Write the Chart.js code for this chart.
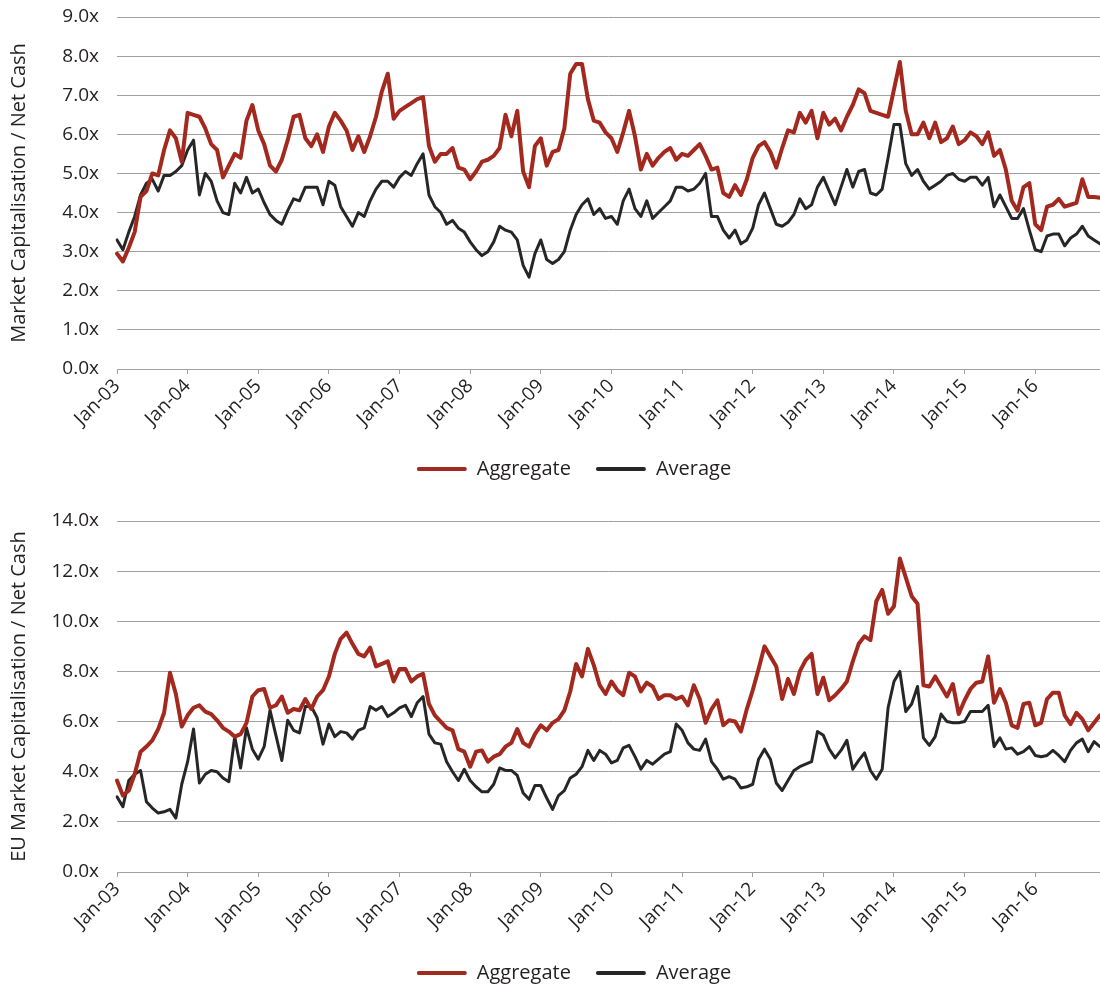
<!DOCTYPE html>
<html><head><meta charset="utf-8">
<script src="https://cdn.jsdelivr.net/npm/chart.js@4"></script>
<style>
html,body{margin:0;padding:0;background:#fff;overflow:hidden;width:1100px;height:988px;}
.wrap{position:absolute;left:0;width:1100px;height:500px;}
</style></head><body>
<div class="wrap" style="top:0"><canvas id="c1"></canvas></div>
<div class="wrap" style="top:494px"><canvas id="c2"></canvas></div>
<script>
const monthNames = ['Jan','Feb','Mar','Apr','May','Jun','Jul','Aug','Sep','Oct','Nov','Dec'];
const yearLabels = ['03','04','05','06','07','08','09','10','11','12','13','14','15','16'];
const seriesNames = ['Aggregate','Average'];
const titleTop = 'Market Capitalisation / Net Cash';
const titleBottom = 'EU Market Capitalisation / Net Cash';

const topAggregate = [
2.95,2.75,3.1,3.5,4.4,4.55,5.0,4.95,5.6,6.1,5.9,5.3,
6.55,6.5,6.45,6.15,5.75,5.6,4.9,5.2,5.5,5.4,6.35,6.75,
6.1,5.75,5.2,5.05,5.35,5.85,6.45,6.5,5.9,5.7,6.0,5.55,
6.2,6.55,6.35,6.1,5.6,5.95,5.55,5.95,6.45,7.1,7.55,6.4,
6.6,6.7,6.8,6.9,6.95,5.7,5.3,5.5,5.5,5.65,5.15,5.1,
4.85,5.05,5.3,5.35,5.45,5.65,6.5,5.95,6.6,5.05,4.65,5.7,
5.9,5.2,5.55,5.6,6.15,7.55,7.8,7.8,6.9,6.35,6.3,6.05,
5.9,5.55,6.05,6.6,5.95,5.1,5.5,5.2,5.4,5.55,5.65,5.35,
5.5,5.45,5.6,5.75,5.45,5.1,5.15,4.5,4.4,4.7,4.45,4.85,
5.4,5.7,5.8,5.55,5.15,5.65,6.1,6.05,6.55,6.3,6.6,5.9,
6.55,6.25,6.4,6.1,6.45,6.75,7.15,7.05,6.6,6.55,6.5,6.45,
7.15,7.85,6.6,6.0,6.0,6.3,5.9,6.3,5.8,5.9,6.2,5.75,
5.85,6.05,5.95,5.75,6.05,5.45,5.6,5.1,4.3,4.05,4.65,4.75,
3.7,3.55,4.15,4.2,4.35,4.15,4.2,4.25,4.85,4.4,4.4,4.38];

const topAverage = [
3.3,3.05,3.5,3.9,4.45,4.75,4.85,4.55,4.95,4.95,5.05,5.2,
5.6,5.85,4.45,5.0,4.8,4.3,4.0,3.95,4.75,4.5,4.9,4.5,
4.6,4.25,3.95,3.8,3.7,4.05,4.35,4.3,4.65,4.65,4.65,4.2,
4.8,4.7,4.15,3.9,3.65,4.0,3.9,4.3,4.6,4.8,4.8,4.65,
4.9,5.05,4.95,5.25,5.5,4.45,4.15,4.0,3.7,3.8,3.6,3.5,
3.25,3.05,2.9,3.0,3.25,3.65,3.55,3.5,3.3,2.65,2.35,2.95,
3.3,2.8,2.7,2.8,3.0,3.55,3.95,4.2,4.35,3.95,4.1,3.85,
3.9,3.7,4.3,4.6,4.1,3.9,4.3,3.85,4.0,4.15,4.3,4.65,
4.65,4.55,4.6,4.75,5.0,3.9,3.9,3.55,3.35,3.55,3.2,3.3,
3.6,4.2,4.5,4.1,3.7,3.65,3.75,3.95,4.35,4.1,4.2,4.65,
4.9,4.55,4.2,4.65,5.1,4.65,5.05,5.1,4.5,4.45,4.6,5.4,
6.25,6.25,5.25,4.95,5.1,4.8,4.6,4.7,4.8,4.95,5.0,4.85,
4.8,4.9,4.9,4.7,4.9,4.15,4.45,4.15,3.85,3.85,4.1,3.55,
3.05,3.0,3.4,3.45,3.45,3.15,3.35,3.45,3.65,3.4,3.3,3.2];

const euAggregate = [
3.65,3.05,3.25,3.9,4.8,5.0,5.25,5.7,6.35,7.95,7.1,5.8,
6.25,6.55,6.65,6.4,6.3,6.05,5.75,5.6,5.4,5.5,5.95,7.0,
7.25,7.3,6.55,6.65,7.0,6.35,6.5,6.45,6.9,6.5,7.0,7.25,
7.8,8.7,9.3,9.55,9.1,8.7,8.6,8.95,8.2,8.3,8.4,7.6,
8.1,8.1,7.6,7.8,7.9,6.7,6.25,6.0,5.75,5.65,4.9,4.8,
4.2,4.8,4.85,4.4,4.6,4.7,5.0,5.15,5.7,5.15,5.0,5.5,
5.85,5.65,5.95,6.1,6.45,7.2,8.3,7.8,8.9,8.25,7.45,7.1,
7.6,7.25,7.05,7.95,7.8,7.2,7.55,7.4,6.9,7.05,7.05,6.9,
7.0,6.65,7.45,6.9,5.95,6.5,6.85,5.85,6.05,6.0,5.6,6.5,
7.25,8.1,9.0,8.6,8.2,6.9,7.7,7.1,8.0,8.45,8.7,7.1,
7.75,6.85,7.05,7.3,7.6,8.4,9.1,9.4,9.25,10.8,11.25,10.3,
10.6,12.5,11.75,11.0,10.7,7.45,7.4,7.8,7.4,7.0,7.5,6.3,
6.85,7.3,7.55,7.6,8.6,6.75,7.3,6.75,5.85,5.75,6.7,6.75,
5.85,5.95,6.9,7.15,7.15,6.25,5.9,6.35,6.1,5.65,5.95,6.25];

const euAverage = [
3.0,2.6,3.65,3.9,4.05,2.8,2.55,2.35,2.4,2.5,2.15,3.5,
4.4,5.7,3.55,3.9,4.05,4.0,3.75,3.6,5.4,4.15,5.75,4.9,
4.5,5.0,6.45,5.45,4.45,6.05,5.65,5.55,6.6,6.6,6.15,5.1,
5.9,5.4,5.6,5.55,5.3,5.65,5.75,6.6,6.45,6.6,6.2,6.35,
6.55,6.65,6.2,6.75,7.0,5.5,5.15,5.1,4.4,4.0,3.65,4.1,
3.65,3.4,3.2,3.2,3.5,4.15,4.05,4.05,3.85,3.15,2.9,3.45,
3.45,2.95,2.5,3.05,3.25,3.75,3.9,4.2,4.85,4.45,4.85,4.7,
4.35,4.45,4.95,5.05,4.6,4.1,4.45,4.3,4.5,4.7,4.8,5.9,
5.65,5.15,4.9,4.85,5.3,4.4,4.1,3.7,3.8,3.7,3.35,3.4,
3.5,4.5,4.9,4.5,3.55,3.25,3.65,4.05,4.2,4.3,4.4,5.6,
5.45,4.9,4.55,4.85,5.25,4.1,4.45,4.75,4.05,3.7,4.1,6.55,
7.6,8.0,6.4,6.7,7.4,5.35,5.05,5.4,6.3,6.0,5.95,5.95,
6.0,6.4,6.4,6.4,6.65,5.0,5.35,4.9,4.95,4.7,4.8,5.0,
4.65,4.6,4.65,4.85,4.65,4.4,4.85,5.15,5.3,4.8,5.2,5.0];

const categories = [];
yearLabels.forEach(y => monthNames.forEach(m => categories.push(m + '-' + y)));

Chart.defaults.font.family = "'Open Sans', sans-serif";
const RED = '#a3291f', BLACK = '#262626', GRID = '#a0a0a0', TEXT = '#231f20';

const legendShift = {
  id: 'legendShift',
  afterLayout(chart, args, opts) {
    const lg = chart.legend;
    if (!lg || !lg.lineWidths) return;
    const pad = lg.options.labels.padding;
    const start = (lg.left + pad + lg.right - lg.lineWidths[0]) / 2;
    const want = opts.center - (lg.lineWidths[0] - pad) / 2;
    const d = want - start;
    lg.left += d; lg.right += d;
  }
};

function makeChart(id, agg, avg, yMax, yStep, title, areaTop, areaBottom, legendMid) {
  const H = 500, lf = 20, lp = 25;
  const legendH = lf + lp + 10;
  const legendTop = legendMid - lp - lf / 2;
  const padBottom = H - (legendTop + legendH);
  const xH = legendTop - areaBottom;
  return new Chart(document.getElementById(id), {
    type: 'line',
    data: {
      labels: categories,
      datasets: [
        {label: seriesNames[0], data: agg, borderColor: RED, backgroundColor: RED, borderWidth: 4, pointRadius: 0, tension: 0, borderJoinStyle: 'round', borderCapStyle: 'round'},
        {label: seriesNames[1], data: avg, borderColor: BLACK, backgroundColor: BLACK, borderWidth: 3, pointRadius: 0, tension: 0, borderJoinStyle: 'round', borderCapStyle: 'round'}
      ]
    },
    options: {
      responsive: true, maintainAspectRatio: false, animation: false, devicePixelRatio: 1,
      layout: {padding: {top: areaTop, left: 0, right: 0, bottom: padBottom}},
      plugins: {
        tooltip: {enabled: false},
        legendShift: {center: 574},
        legend: {
          position: 'bottom', align: 'center',
          labels: {
            boxWidth: 50, boxHeight: 4, padding: lp, color: TEXT,
            font: {size: lf},
            useBorderRadius: true, borderRadius: 2,
            generateLabels: (chart) => Chart.defaults.plugins.legend.labels.generateLabels(chart)
              .map(l => Object.assign(l, {lineWidth: 0, fillStyle: l.strokeStyle}))
          }
        }
      },
      scales: {
        x: {
          type: 'category',
          ticks: {autoSkip: false, maxRotation: 45, minRotation: 45, padding: 1, color: TEXT, font: {size: 19}},
          grid: {drawOnChartArea: false, drawTicks: true, tickLength: 5, color: GRID, lineWidth: 1},
          border: {display: true, color: GRID, width: 1},
          afterBuildTicks: s => { s.ticks = s.ticks.filter(t => t.value % 12 === 0); },
          afterFit: s => { s.height = xH; s.paddingRight = 0; }
        },
        y: {
          min: 0, max: yMax,
          ticks: {stepSize: yStep, padding: 18, color: TEXT, font: {size: 19}, callback: v => Number(v).toFixed(1) + 'x'},
          grid: {color: GRID, lineWidth: 1, drawTicks: false},
          border: {display: false},
          title: {display: true, text: title, color: TEXT, font: {size: 20}, padding: {top: 7, bottom: 0}},
          afterFit: s => { s.width = 117; s.paddingTop = 0; s.paddingBottom = 0; }
        }
      }
    },
    plugins: [legendShift]
  });
}

makeChart('c1', topAggregate, topAverage, 9, 1, titleTop, 17, 369, 469);
makeChart('c2', euAggregate, euAverage, 14, 2, titleBottom, 27, 378, 479);
</script></body></html>
